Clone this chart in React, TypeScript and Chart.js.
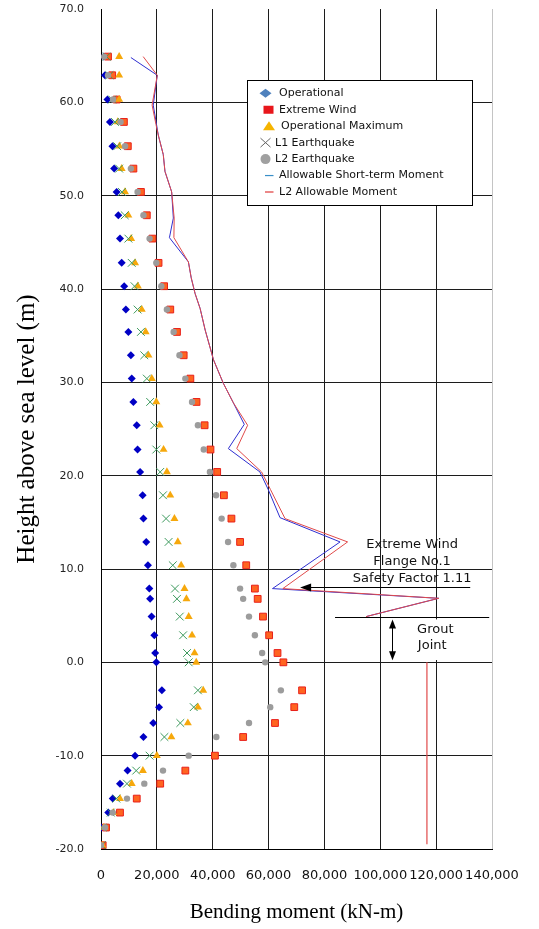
import React, { useEffect, useRef } from 'react';
import { Chart, registerables } from 'chart.js';

Chart.register(...registerables);

// Heights (m) of the evaluated sections
const heights = [64.9, 62.9, 60.3, 57.9, 55.3, 52.9, 50.4, 47.9, 45.4, 42.8, 40.3, 37.8, 35.4, 32.9, 30.4, 27.9, 25.4, 22.8, 20.4, 17.9, 15.4, 12.9, 10.4, 7.9, 6.8, 4.9, 2.9, 1.0, 0.0, -3.0, -4.8, -6.5, -8.0, -10.0, -11.6, -13.0, -14.6, -16.1, -17.7, -19.6];

// Bending moments (kN-m)
const operational = [1000, 1400, 2300, 3200, 4100, 4700, 5600, 6200, 6800, 7400, 8300, 8900, 9800, 10700, 11000, 11600, 12800, 13100, 14000, 14900, 15200, 16200, 16800, 17300, 17600, 18100, 19100, 19400, 19800, 21800, 20800, 18700, 15200, 12200, 9500, 6800, 4200, 2600, 300, 0];
const extremeWind = [2500, 4000, 5600, 8200, 9600, 11600, 14300, 16400, 18400, 20600, 22600, 24800, 27200, 29600, 32000, 34200, 37100, 39200, 41600, 44000, 46700, 49800, 52000, 55100, 56100, 58000, 60200, 63200, 65300, 72000, 69200, 62300, 50900, 40800, 30200, 21200, 12800, 6800, 1800, 600];
const operationalMax = [6500, 6500, 6500, 6000, 6600, 7400, 8600, 9800, 10800, 12200, 13200, 14600, 16000, 17000, 18200, 19800, 21000, 22400, 23600, 24800, 26300, 27500, 28700, 29900, 30600, 31400, 32600, 33500, 34100, 36600, 34700, 31100, 25200, 20000, 15000, 11000, 6800, 4400, 1000, 500];
const l1Earthquake = [2000, 3000, 4000, 5000, 5800, 6500, 7500, 8500, 9800, 11000, 12000, 13100, 14300, 15500, 16400, 17600, 19100, 19800, 21200, 22200, 23300, 24200, 25700, 26500, 27200, 28200, 29400, 30800, 31400, 34700, 33200, 28400, 22700, 17400, 12600, 9300, 5500, 3500, 600, 300];
const l2Earthquake = [1100, 2500, 4300, 7000, 8600, 10700, 13100, 15200, 17400, 19800, 21600, 23600, 26000, 28100, 30200, 32600, 34700, 36800, 39000, 41200, 43200, 45500, 47400, 49800, 50900, 53000, 55100, 57700, 58800, 64400, 60600, 53000, 41300, 31400, 22200, 15500, 9300, 4200, 1400, 0];

// Allowable short-term moment line
const allowShortM = [10700, 20150, 18700, 19900, 20500, 22300, 22900, 25300, 25900, 24500, 31300, 32300, 33700, 35500, 37300, 40300, 43800, 47400, 51300, 45600, 56900, 59900, 64100, 85600, 61400, 120900, 94900];
const allowShortH = [64.8, 62.9, 59.7, 57.6, 56.5, 54.4, 52.6, 50.4, 47.6, 45.5, 42.9, 41.2, 39.5, 37.9, 35.6, 32.4, 29.9, 27.8, 25.5, 22.9, 20.4, 18.5, 15.5, 12.9, 7.9, 6.86, 4.9];

// L2 allowable moment line (upper part and grout-joint-below part)
const l2AllowM = [15100, 20150, 18300, 19700, 20500, 22300, 22900, 25300, 26200, 26100, 31300, 32300, 33700, 35500, 37300, 40300, 43800, 47400, 52500, 48600, 57500, 60700, 65900, 88300, 65100, 120900, 94900];
const l2AllowH = [64.9, 62.9, 59.7, 57.6, 56.5, 54.4, 52.6, 50.4, 47.6, 45.5, 42.9, 41.2, 39.5, 37.9, 35.6, 32.4, 29.9, 27.8, 25.4, 22.9, 20.4, 18.5, 15.4, 12.9, 7.9, 6.86, 4.9];
const l2AllowLowM = [116700, 116700];
const l2AllowLowH = [0, -19.5];

// Axis ticks
const xTicks = [0, 20000, 40000, 60000, 80000, 100000, 120000, 140000];
const yTicks = [-20, -10, 0, 10, 20, 30, 40, 50, 60, 70];

// Annotations (data units)
const noteText = ['Extreme Wind', 'Flange No.1', 'Safety Factor 1.11'];
const noteM = 111400;
const noteH = [12.57, 10.78, 9.0];
const arrowFromM = 132200;
const arrowToM = 71300;
const arrowH = 8.1;
const groutLineM = [83800, 139000];
const groutTopH = 4.82;
const groutArrowM = 104300;
const groutText = ['Grout', 'Joint'];
const groutTextM = [119700, 118600];
const groutTextH = [3.46, 1.78];
const groutBoxM = [108900, 132200];
const groutBoxH = [4.6, 0.25];

const legendItems = [
  { label: 'Operational', kind: 'diamond', color: '#4F81BD' },
  { label: 'Extreme Wind', kind: 'square', color: '#E8161B' },
  { label: 'Operational Maximum', kind: 'triangle', color: '#F5B400' },
  { label: 'L1 Earthquake', kind: 'x', color: '#666666' },
  { label: 'L2 Earthquake', kind: 'circle', color: '#A0A0A0' },
  { label: 'Allowable Short-term Moment', kind: 'line', color: '#3A8FC8' },
  { label: 'L2 Allowable Moment', kind: 'line', color: '#E03A3A' },
];

const pts = (xs: number[], ys: number[]) => xs.map((v, i) => ({ x: v, y: ys[i] }));

const overlayPlugin = {
  id: 'overlay',
  beforeDatasetsDraw(chart: any) {
    const { ctx, scales } = chart;
    const x = scales.x, y = scales.y;
    ctx.save();
    ctx.fillStyle = '#ffffff';
    const bx0 = x.getPixelForValue(groutBoxM[0]);
    const bx1 = x.getPixelForValue(groutBoxM[1]);
    const by0 = y.getPixelForValue(groutBoxH[0]);
    const by1 = y.getPixelForValue(groutBoxH[1]);
    ctx.fillRect(bx0, by0, bx1 - bx0, by1 - by0);
    ctx.restore();
  },
  afterDraw(chart: any) {
    const { ctx, scales } = chart;
    const x = scales.x, y = scales.y;
    ctx.save();
    // annotation texts
    ctx.fillStyle = '#111';
    ctx.font = '13px "DejaVu Sans"';
    ctx.textAlign = 'center';
    ctx.textBaseline = 'middle';
    noteText.forEach((t, i) => ctx.fillText(t, x.getPixelForValue(noteM), y.getPixelForValue(noteH[i])));
    groutText.forEach((t, i) => ctx.fillText(t, x.getPixelForValue(groutTextM[i]), y.getPixelForValue(groutTextH[i])));

    // arrow pointing left
    ctx.strokeStyle = '#000';
    ctx.fillStyle = '#000';
    ctx.lineWidth = 1;
    const ay = Math.round(y.getPixelForValue(arrowH)) + 0.5;
    const ax0 = x.getPixelForValue(arrowFromM);
    const ax1 = x.getPixelForValue(arrowToM);
    ctx.beginPath();
    ctx.moveTo(ax0, ay);
    ctx.lineTo(ax1 + 8, ay);
    ctx.stroke();
    ctx.beginPath();
    ctx.moveTo(ax1, ay);
    ctx.lineTo(ax1 + 11, ay - 4);
    ctx.lineTo(ax1 + 11, ay + 4);
    ctx.closePath();
    ctx.fill();

    // grout top line
    const gy = Math.round(y.getPixelForValue(groutTopH)) + 0.5;
    ctx.beginPath();
    ctx.moveTo(x.getPixelForValue(groutLineM[0]), gy);
    ctx.lineTo(x.getPixelForValue(groutLineM[1]), gy);
    ctx.stroke();

    // double arrow
    const dx = Math.round(x.getPixelForValue(groutArrowM)) + 0.5;
    const dy0 = gy + 2;
    const dy1 = y.getPixelForValue(0) - 2;
    ctx.beginPath();
    ctx.moveTo(dx, dy0 + 6);
    ctx.lineTo(dx, dy1 - 6);
    ctx.stroke();
    ctx.beginPath();
    ctx.moveTo(dx, dy0);
    ctx.lineTo(dx - 3.5, dy0 + 9);
    ctx.lineTo(dx + 3.5, dy0 + 9);
    ctx.closePath();
    ctx.fill();
    ctx.beginPath();
    ctx.moveTo(dx, dy1);
    ctx.lineTo(dx - 3.5, dy1 - 9);
    ctx.lineTo(dx + 3.5, dy1 - 9);
    ctx.closePath();
    ctx.fill();

    // legend box
    const lx0 = 247.5, ly0 = 80.5, lw = 225, lh = 125;
    ctx.fillStyle = '#fff';
    ctx.fillRect(lx0, ly0, lw, lh);
    ctx.strokeStyle = '#000';
    ctx.strokeRect(lx0, ly0, lw, lh);
    ctx.font = '11px "DejaVu Sans"';
    ctx.textAlign = 'left';
    ctx.textBaseline = 'middle';
    legendItems.forEach((it, i) => {
      const cy = 93.3 + i * 16.45;
      ctx.fillStyle = it.color;
      ctx.strokeStyle = it.color;
      let tx = 279;
      if (it.kind === 'diamond') {
        const cx = 265.5;
        ctx.beginPath();
        ctx.moveTo(cx - 6, cy);
        ctx.lineTo(cx, cy - 4.5);
        ctx.lineTo(cx + 6, cy);
        ctx.lineTo(cx, cy + 4.5);
        ctx.closePath();
        ctx.fill();
      } else if (it.kind === 'square') {
        ctx.fillRect(263.5, cy - 4, 10, 8);
      } else if (it.kind === 'triangle') {
        ctx.beginPath();
        ctx.moveTo(269, cy - 5);
        ctx.lineTo(275, cy + 4);
        ctx.lineTo(263, cy + 4);
        ctx.closePath();
        ctx.fill();
        tx = 281;
      } else if (it.kind === 'x') {
        ctx.lineWidth = 1;
        ctx.beginPath();
        ctx.moveTo(260.5, cy - 4.5);
        ctx.lineTo(270.5, cy + 4.5);
        ctx.moveTo(270.5, cy - 4.5);
        ctx.lineTo(260.5, cy + 4.5);
        ctx.stroke();
        tx = 275;
      } else if (it.kind === 'circle') {
        ctx.beginPath();
        ctx.arc(265.5, cy, 5, 0, Math.PI * 2);
        ctx.fill();
        tx = 275;
      } else {
        ctx.lineWidth = 1.2;
        ctx.beginPath();
        ctx.moveTo(265, cy);
        ctx.lineTo(273.5, cy);
        ctx.stroke();
      }
      ctx.fillStyle = '#111';
      ctx.fillText(it.label, tx, cy);
    });
    ctx.restore();
  },
};

export default function App() {
  const ref = useRef<HTMLCanvasElement | null>(null);

  useEffect(() => {
    if (!ref.current) return;
    const chart = new Chart(ref.current, {
      type: 'scatter',
      data: {
        datasets: [
          {
            label: 'L2 Allowable Moment',
            data: pts(l2AllowM, l2AllowH),
            showLine: true,
            borderColor: '#E04A4A',
            borderWidth: 1,
            pointRadius: 0,
            order: -2,
          },
          {
            label: 'L2 Allowable Moment (below grout)',
            data: pts(l2AllowLowM, l2AllowLowH),
            showLine: true,
            borderColor: '#E04A4A',
            borderWidth: 1.2,
            pointRadius: 0,
            order: -2,
          },
          {
            label: 'Allowable Short-term Moment',
            data: pts(allowShortM, allowShortH),
            showLine: true,
            borderColor: '#2E2ED0',
            borderWidth: 1,
            pointRadius: 0,
            order: -1,
          },
          {
            label: 'L2 Earthquake',
            data: pts(l2Earthquake, heights),
            pointStyle: 'circle',
            pointRadius: 3.2,
            backgroundColor: '#9C9C9C',
            borderColor: '#9C9C9C',
            borderWidth: 0,
            order: 1,
          },
          {
            label: 'L1 Earthquake',
            data: pts(l1Earthquake, heights),
            pointStyle: 'crossRot',
            pointRadius: 5.5,
            borderColor: '#3E9A5E',
            borderWidth: 1,
            order: 2,
          },
          {
            label: 'Operational Maximum',
            data: pts(operationalMax, heights),
            pointStyle: 'triangle',
            pointRadius: 4.6,
            backgroundColor: '#F6A80C',
            borderColor: '#F6A80C',
            borderWidth: 0,
            order: 3,
          },
          {
            label: 'Extreme Wind',
            data: pts(extremeWind, heights),
            pointStyle: 'rect',
            pointRadius: 4.8,
            backgroundColor: '#FF6420',
            borderColor: '#E8201A',
            borderWidth: 1,
            order: 4,
          },
          {
            label: 'Operational',
            data: pts(operational, heights),
            pointStyle: 'rectRot',
            pointRadius: 4,
            backgroundColor: '#0000C4',
            borderColor: '#0000C4',
            borderWidth: 0,
            order: 5,
          },
        ],
      },
      options: {
        animation: false,
        responsive: true,
        maintainAspectRatio: false,
        events: [],
        layout: { padding: { left: 0, right: 47, top: 9, bottom: 0 } },
        plugins: {
          legend: { display: false },
          tooltip: { enabled: false },
        },
        scales: {
          x: {
            type: 'linear',
            min: 0,
            max: 140000,
            afterBuildTicks: (s: any) => {
              s.ticks = xTicks.map((v) => ({ value: v }));
            },
            afterFit: (s: any) => {
              s.height = 80;
              s.paddingLeft = 0;
              s.paddingRight = 0;
            },
            ticks: {
              autoSkip: false,
              padding: 19,
              color: '#111',
              font: { family: '"DejaVu Sans"', size: 13 },
              maxRotation: 0,
              callback: (v: any) => Number(v).toLocaleString('en-US'),
            },
            grid: {
              drawTicks: false,
              color: (c: any) => (c.tick && c.tick.value === 140000 ? '#c4c4c4' : '#1c1c1c'),
              lineWidth: 1,
            },
            border: { color: '#000', width: 1 },
            title: {
              display: true,
              text: 'Bending moment (kN-m)',
              color: '#000',
              font: { family: '"Liberation Serif"', size: 21 },
              padding: { top: 0, bottom: 4 },
            },
          },
          y: {
            type: 'linear',
            min: -20,
            max: 70,
            afterBuildTicks: (s: any) => {
              s.ticks = yTicks.map((v) => ({ value: v }));
            },
            afterFit: (s: any) => {
              s.width = 101;
              s.paddingTop = 0;
              s.paddingBottom = 0;
            },
            ticks: {
              autoSkip: false,
              padding: 17,
              color: '#222',
              font: { family: '"DejaVu Sans"', size: 11 },
              callback: (v: any) => Number(v).toFixed(1),
            },
            grid: {
              drawTicks: false,
              color: (c: any) => (c.tick && c.tick.value === 70 ? 'rgba(0,0,0,0)' : '#1c1c1c'),
              lineWidth: 1,
            },
            border: { color: '#000', width: 1 },
            title: {
              display: true,
              text: 'Height above sea level (m)',
              color: '#000',
              font: { family: '"Liberation Serif"', size: 25 },
              padding: { top: 12, bottom: 0 },
            },
          },
        },
      },
      plugins: [overlayPlugin],
    } as any);
    return () => chart.destroy();
  }, []);

  return (
    <div style={{ position: 'fixed', left: 0, top: 0, width: 539, height: 929, background: '#fff' }}>
      <canvas ref={ref} style={{ display: 'block' }} />
    </div>
  );
}
